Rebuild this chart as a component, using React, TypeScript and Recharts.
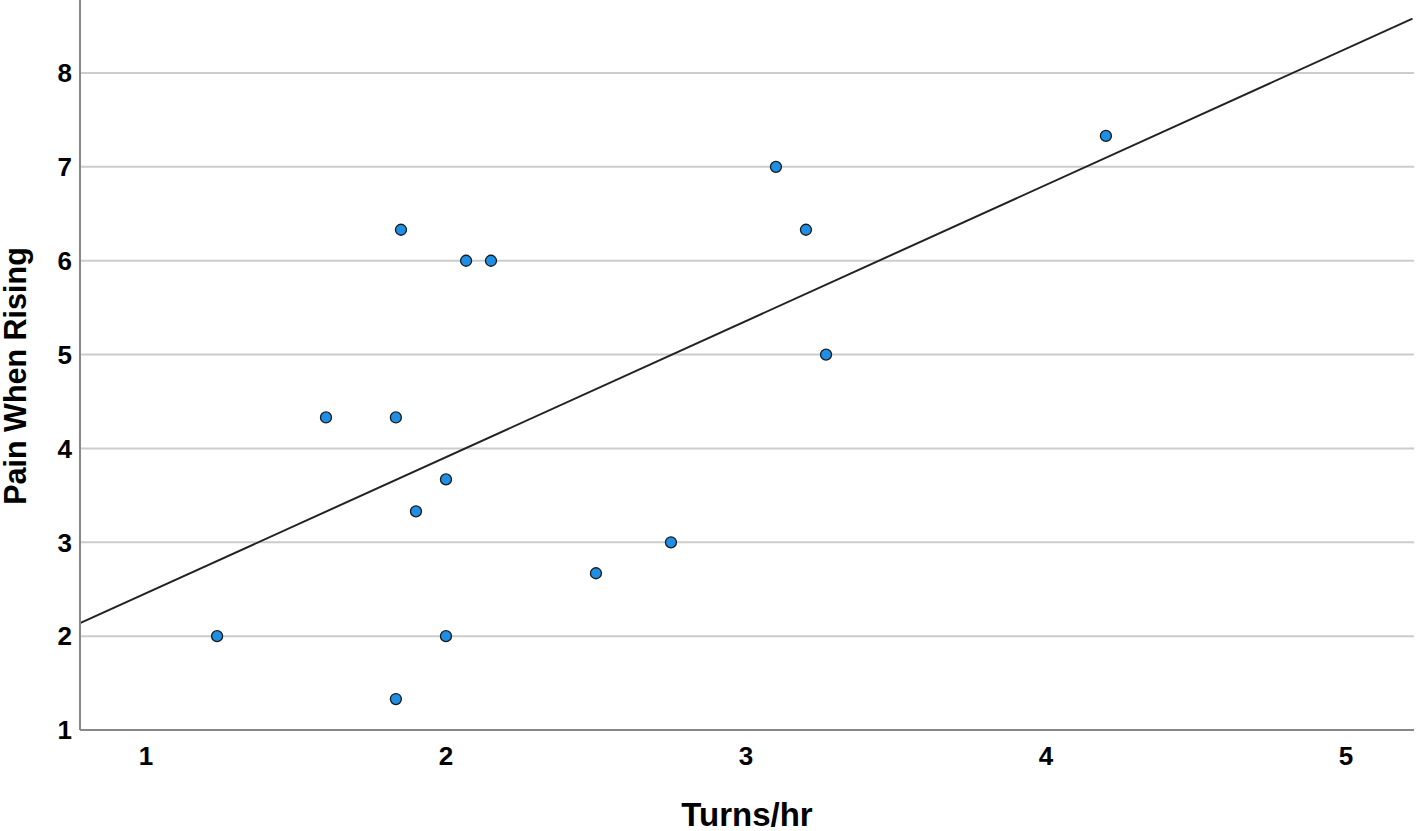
import React from 'react';
import { ComposedChart, Scatter, XAxis, YAxis, CartesianGrid, ReferenceLine } from 'recharts';

const turnsPerHr = [1.237, 1.6, 1.833, 1.85, 1.9, 2.0, 2.0, 1.833, 2.067, 2.15, 2.5, 2.75, 3.1, 3.2, 3.267, 4.2];
const painWhenRising = [2.0, 4.33, 4.33, 6.33, 3.33, 3.67, 2.0, 1.33, 6.0, 6.0, 2.67, 3.0, 7.0, 6.33, 5.0, 7.33];
const xTicks = [1, 2, 3, 4, 5];
const yTicks = [1, 2, 3, 4, 5, 6, 7, 8];
const gridValues = [2, 3, 4, 5, 6, 7, 8];
const xDomain = [0.78, 5.227];
const yDomain = [1, 8.778];
const fitStart = { x: 0.78, y: 2.138 };
const fitEnd = { x: 5.222, y: 8.58 };

const data = turnsPerHr.map((x, i) => ({ x, y: painWhenRising[i] }));

const font = '"Liberation Sans", Arial, sans-serif';

const Dot = (props: any) => {
  const { cx, cy } = props;
  if (cx == null || cy == null) return null;
  return <circle cx={cx} cy={cy} r={5.5} fill="#1f8fe6" stroke="#1a1a1a" strokeWidth={1.3} />;
};

export default function App() {
  return (
    <div style={{ position: 'absolute', left: 0, top: 0, width: 1416, height: 831, background: '#fff' }}>
      <ComposedChart width={1416} height={831} data={data} margin={{ top: 0, right: 2, bottom: 0, left: 0 }}>
        <CartesianGrid vertical={false} horizontalValues={gridValues} stroke="#cccccc" strokeWidth={2} />
        <XAxis
          dataKey="x"
          type="number"
          domain={xDomain}
          ticks={xTicks}
          allowDataOverflow
          height={101}
          tickLine={false}
          tickSize={0}
          tickMargin={17}
          axisLine={{ stroke: '#888888', strokeWidth: 2 }}
          tick={{ fontSize: 26, fontWeight: 'bold', fill: '#000', fontFamily: font }}
          label={{
            content: () => (
              <text x={747} y={826} textAnchor="middle" fontSize={33} fontWeight="bold" fontFamily={font} fill="#000">
                Turns/hr
              </text>
            ),
          }}
        />
        <YAxis
          dataKey="y"
          type="number"
          domain={yDomain}
          ticks={yTicks}
          allowDataOverflow
          width={80}
          tickLine={false}
          tickSize={0}
          tickMargin={8}
          axisLine={{ stroke: '#888888', strokeWidth: 2 }}
          tick={{ fontSize: 26, fontWeight: 'bold', fill: '#000', fontFamily: font }}
          label={{
            content: () => (
              <text
                x={26}
                y={376}
                transform="rotate(-90, 26, 376)"
                textAnchor="middle"
                fontSize={30.5}
                fontWeight="bold"
                fontFamily={font}
                fill="#000"
              >
                Pain When Rising
              </text>
            ),
          }}
        />
        <ReferenceLine
          segment={[fitStart, fitEnd]}
          stroke="#222222"
          strokeWidth={2}
          ifOverflow="visible"
        />
        <Scatter data={data} dataKey="y" isAnimationActive={false} shape={<Dot />} />
      </ComposedChart>
    </div>
  );
}
